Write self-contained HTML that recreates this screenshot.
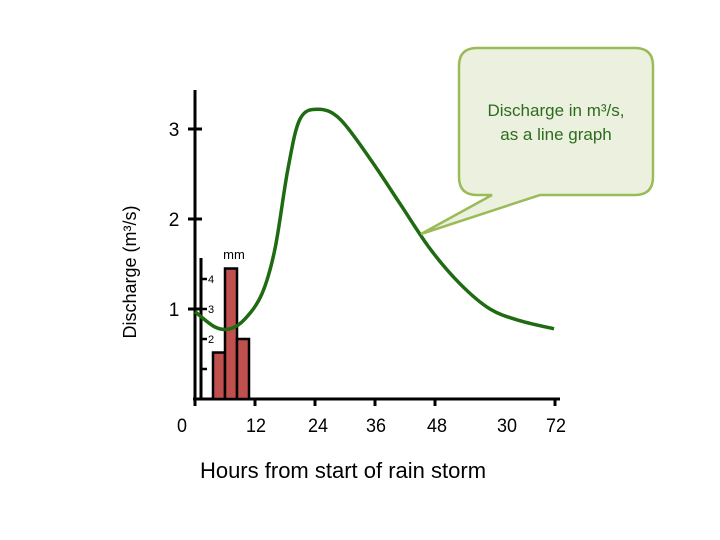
<!DOCTYPE html>
<html><head><meta charset="utf-8"><style>
html,body{margin:0;padding:0;background:#fff;width:720px;height:540px;overflow:hidden}
svg{display:block;font-family:"Liberation Sans","DejaVu Sans",sans-serif}
</style></head><body>
<svg id="chart" width="720" height="540" viewBox="0 0 720 540">
<g id="axes"></g>
<g id="bars"></g>
<g id="line"></g>
<g>
<path d="M477,48 H635 Q653,48 653,66 V177 Q653,195 635,195 H540 L421,234 L492,195 H477 Q459,195 459,177 V66 Q459,48 477,48 Z" fill="#ebf1de" stroke="#9bbb59" stroke-width="2.5"/>
<text x="556" y="116" text-anchor="middle" font-size="17" fill="#2e6b1e">Discharge in m³/s,</text>
<text x="556" y="140" text-anchor="middle" font-size="17" fill="#2e6b1e">as a line graph</text>
</g>
<text x="0" y="0" transform="translate(136,272) rotate(-90)" text-anchor="middle" font-size="18" fill="#000">Discharge (m³/s)</text>
<text x="343" y="478" text-anchor="middle" font-size="22" fill="#000">Hours from start of rain storm</text>
</svg>
<script>
const xTickLabels=["0","12","24","36","48","30","72"];
const xTickHours=[0,12,24,36,48,60,72];
const xTickMarked=[true,true,true,true,true,false,true];
const yTicks=[1,2,3];
const mmTicks=[1,2,3,4];
const mmTickLabels=["","2","3","4"];
const rainHours=[4.8,7.2,9.6];
const rainMm=[1.55,4.35,2.0];
const hours=[0,4,7,10,13.4,16,18.6,21,24.6,29,35,41,47,53,59,65,71.8];
const discharge=[0.97,0.80,0.78,0.89,1.17,1.67,2.56,3.11,3.22,3.11,2.67,2.17,1.67,1.28,1.0,0.87,0.78];

const ns="http://www.w3.org/2000/svg";
function mk(t,a,p){const e=document.createElementNS(ns,t);for(const k in a)e.setAttribute(k,a[k]);p.appendChild(e);return e;}
const X0=195,Y0=399;
const xs=h=>X0+h*5;
const ys=v=>Y0-v*90;
const labelPx=[182,256,318,376,437,507,556];
const MX=201;
const ym=v=>Y0-v*30;

const axes=document.getElementById('axes');
let l=mk('line',{x1:X0,y1:90,x2:X0,y2:Y0,stroke:'#000','stroke-width':3},axes);


l=mk('line',{x1:X0-2,y1:Y0,x2:560,y2:Y0,stroke:'#000','stroke-width':3},axes);


yTicks.forEach(v=>{
 const t=mk('line',{x1:X0-7,y1:ys(v),x2:X0+7,y2:ys(v),stroke:'#000','stroke-width':3},axes);
 
 
 const tx=mk('text',{x:174,y:ys(v)+7,'text-anchor':'middle','font-size':19},axes);
 tx.textContent=v;
 
 
});
xTickLabels.forEach((s,i)=>{
 const px=xs(xTickHours[i]);
 if(xTickMarked[i]){const t=mk('line',{x1:px,y1:Y0,x2:px,y2:Y0+7,stroke:'#000','stroke-width':3},axes);
 
 }
 const tx=mk('text',{x:labelPx[i],y:432,'text-anchor':'middle','font-size':19,'textLength':s.length*10,'lengthAdjust':'spacingAndGlyphs'},axes);
 tx.textContent=s;
 
 
});
l=mk('line',{x1:MX,y1:258,x2:MX,y2:Y0,stroke:'#000','stroke-width':3},axes);


mmTicks.forEach((v,i)=>{
 const t=mk('line',{x1:MX,y1:ym(v),x2:MX+6,y2:ym(v),stroke:'#000','stroke-width':2.5},axes);
 
 
 if(mmTickLabels[i]){const tx=mk('text',{x:208,y:ym(v)+4,'font-size':11},axes);
 tx.textContent=mmTickLabels[i];
 
 }
});
const mmT=mk('text',{x:234,y:259,'text-anchor':'middle','font-size':13},axes);
mmT.textContent='mm';



const bars=document.getElementById('bars');
rainHours.forEach((h,i)=>{
 const w=12;
 const b=mk('rect',{x:xs(h)-w/2,y:ym(rainMm[i]),width:w,height:Y0-ym(rainMm[i]),fill:'#c0504d',stroke:'#000','stroke-width':2.5},bars);
 
 
});

const pts=hours.map((h,i)=>[xs(h),ys(discharge[i])]);
let d='M'+pts[0][0]+','+pts[0][1];
for(let i=0;i<pts.length-1;i++){
 const p0=pts[i-1]||pts[i],p1=pts[i],p2=pts[i+1],p3=pts[i+2]||p2;
 const c1=[p1[0]+(p2[0]-p0[0])/6,p1[1]+(p2[1]-p0[1])/6];
 const c2=[p2[0]-(p3[0]-p1[0])/6,p2[1]-(p3[1]-p1[1])/6];
 d+=' C'+c1+' '+c2+' '+p2;
}
const path=mk('path',{d:d,fill:'none',stroke:'#1e6b12','stroke-width':3.5},document.getElementById('line'));


</script>
</body></html>
